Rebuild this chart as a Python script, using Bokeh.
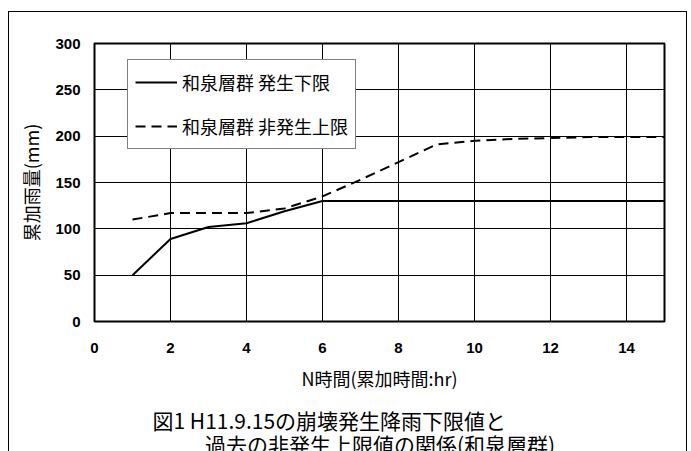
from bokeh.plotting import figure
from bokeh.models import Legend, LegendItem, Title, FixedTicker
from bokeh.embed import file_html
from bokeh.resources import INLINE

# ---- data ----
hours = [1, 2, 3, 4, 5, 6, 7, 8, 9, 10, 11, 12, 13, 14, 15]
lower_limit = [50, 89, 102, 106, 119, 130, 130, 130, 130, 130, 130, 130, 130, 130, 130]
upper_nonocc = [110, 117, 117, 117, 122, 135, 153, 172, 191, 195, 197, 198, 199, 199, 199]
x_ticks = [0, 2, 4, 6, 8, 10, 12, 14]
y_ticks = [0, 50, 100, 150, 200, 250, 300]
series_names = ["和泉層群 発生下限", "和泉層群 非発生上限"]
x_title = "N時間(累加時間:hr)"
y_title = "累加雨量(mm)"
caption1 = "図1  H11.9.15の崩壊発生降雨下限値と"
caption2 = "\u3000\u3000\u2002過去の非発生上限値の関係(和泉層群)"

JP = "Noto Sans CJK JP"

# outer frame of the whole chart is drawn as a CSS border of the figure
p = figure(width=679, height=460, x_range=(0, 15), y_range=(0, 300),
           output_backend="svg", toolbar_location=None,
           min_border_left=85, min_border_right=24, min_border_top=31, min_border_bottom=150)
p.margin = (11, 0, 0, 8)
p.styles = {"border": "1.5px solid black"}
p.background_fill_color = "white"
p.border_fill_color = "white"
p.outline_line_color = "black"
p.outline_line_width = 2

p.xaxis.ticker = FixedTicker(ticks=x_ticks)
p.yaxis.ticker = FixedTicker(ticks=y_ticks)
for ax in (p.xaxis, p.yaxis):
    ax.axis_line_color = None
    ax.major_tick_line_color = None
    ax.minor_tick_line_color = None
    ax.major_tick_out = 0
    ax.major_tick_in = 0
    ax.major_label_text_font = "Liberation Sans"
    ax.major_label_text_font_style = "bold"
    ax.major_label_text_font_size = "15px"
    ax.major_label_text_color = "black"
    ax.axis_label_text_font = JP
    ax.axis_label_text_font_style = "normal"
    ax.axis_label_text_font_size = "18px"
    ax.axis_label_text_color = "black"
p.yaxis.major_label_standoff = 14
p.xaxis.major_label_standoff = 21
p.xaxis.axis_label = x_title
p.yaxis.axis_label = y_title
p.xaxis.axis_label_standoff = 9
p.yaxis.axis_label_standoff = 8

p.xgrid.grid_line_color = "black"
p.ygrid.grid_line_color = "black"
p.xgrid.grid_line_width = 1
p.ygrid.grid_line_width = 1

r1 = p.line(hours, lower_limit, line_color="black", line_width=2)
r2 = p.line(hours, upper_nonocc, line_color="black", line_width=2, line_dash="10 6")

legend = Legend(items=[LegendItem(label=series_names[0], renderers=[r1]),
                       LegendItem(label=series_names[1], renderers=[r2])],
                location=(33, 172), orientation="vertical",
                label_text_font=JP, label_text_font_size="18px",
                label_text_color="black",
                glyph_width=42, glyph_height=30, label_height=30,
                label_standoff=5, padding=7, spacing=14, margin=0,
                border_line_color="black", border_line_width=1.5,
                background_fill_color="white", background_fill_alpha=1)
p.add_layout(legend, "center")

p.add_layout(Title(text=caption1 + "\n" + caption2, align="left", offset=58,
                   text_font=JP, text_font_size="21px", text_font_style="normal",
                   text_color="black", standoff=22, text_line_height=0.83,
                   vertical_align="top"), "below")

open("out.html", "w").write(file_html(p, INLINE))
